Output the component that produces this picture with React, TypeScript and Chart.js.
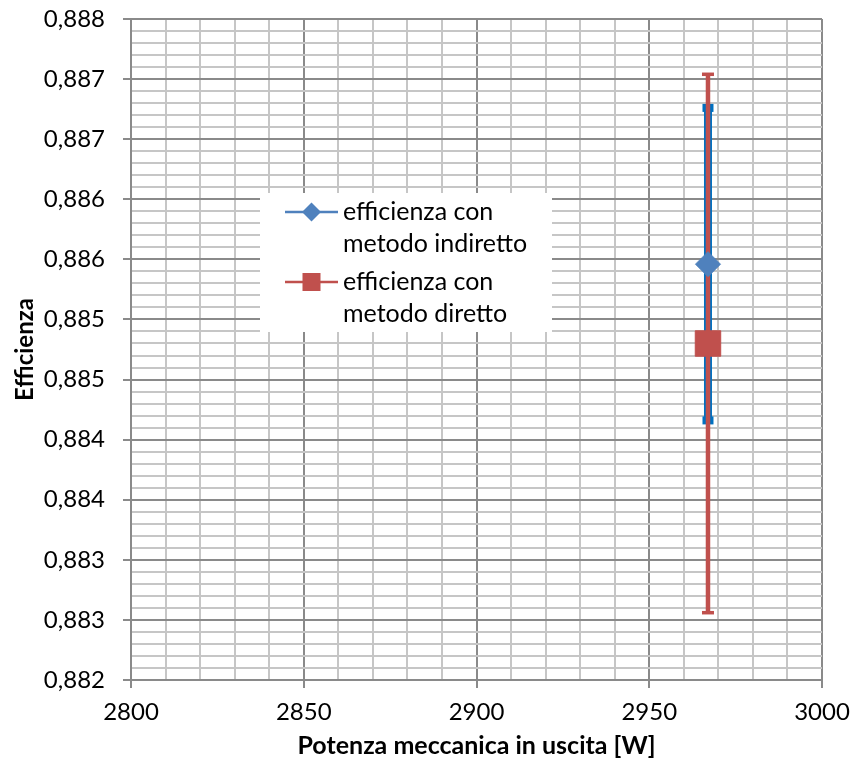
import React, { useEffect, useRef } from 'react';
import { Chart, registerables } from 'chart.js';

Chart.register(...registerables);

// ---- data ----
const SERIES_NAMES = ['efficienza con metodo indiretto', 'efficienza con metodo diretto'];
const LEGEND_LINES_INDIRECT = ['efficienza con', 'metodo indiretto'];
const LEGEND_LINES_DIRECT = ['efficienza con', 'metodo diretto'];

const POWER_INDIRECT = [2967];
const EFF_INDIRECT = [0.88546];
const ERR_INDIRECT = [0.0013];

const POWER_DIRECT = [2967];
const EFF_DIRECT = [0.8848];
const ERR_DIRECT = [0.00224];

const X_MIN = 2800;
const X_MAX = 3000;
const X_MINOR_STEP = 10;
const X_MAJOR_STEP = 50;

const Y_MIN = 0.882;
const Y_MAX = 0.8875;
const Y_MINOR_STEP = 0.0001;

const X_TITLE = 'Potenza meccanica in uscita [W]';
const Y_TITLE = 'Efficienza';

// ---- style ----
const FONT = 'Lato';
const MAJOR_GRID = '#8a8a8a';
const MINOR_GRID = '#c6c6c6';
const BLUE = '#4F81BD';
const BLUE_ERR = '#0070C0';
const RED = '#C0504D';

const isMajorX = (v: number) => Math.round(v) % X_MAJOR_STEP === 0;
const isMajorY = (v: number) => Math.round(v * 10000) % 5 === 0;
const yLabel = (v: number) => {
  const n = Math.round(v * 10000);
  if (n % 5 !== 0) return '';
  return (Math.round(n / 10) / 1000).toFixed(3).replace('.', ',');
};

const zeroPad = (s: any) => {
  s.paddingTop = 0;
  s.paddingBottom = 0;
  s.paddingLeft = 0;
  s.paddingRight = 0;
};

const errorBarPlugin = {
  id: 'errorBars',
  beforeDatasetsDraw(chart: any) {
    const { ctx } = chart;
    const xs = chart.scales.x;
    const ys = chart.scales.y;
    chart.data.datasets.forEach((ds: any) => {
      const st = ds.errStyle;
      ds.data.forEach((p: any, i: number) => {
        const e = ds.errors[i];
        const px = xs.getPixelForValue(p.x);
        const top = ys.getPixelForValue(p.y + e);
        const bot = ys.getPixelForValue(p.y - e);
        ctx.save();
        ctx.strokeStyle = st.color;
        ctx.fillStyle = st.color;
        ctx.lineWidth = st.width;
        ctx.beginPath();
        ctx.moveTo(px, top);
        ctx.lineTo(px, bot);
        ctx.stroke();
        ctx.fillRect(px - st.capWidth / 2, top - st.capThick / 2, st.capWidth, st.capThick);
        ctx.fillRect(px - st.capWidth / 2, bot - st.capThick / 2, st.capWidth, st.capThick);
        ctx.restore();
      });
    });
  },
};

const legendPlugin = {
  id: 'boxLegend',
  afterDraw(chart: any) {
    const { ctx, chartArea } = chart;
    const bx = chartArea.left + 129;
    const by = chartArea.top + 174;
    const bw = 292;
    const bh = 139;
    ctx.save();
    ctx.fillStyle = '#ffffff';
    ctx.fillRect(bx, by, bw, bh);
    const items = [
      { lines: LEGEND_LINES_INDIRECT, color: BLUE, marker: 'diamond', y: by + 19 },
      { lines: LEGEND_LINES_DIRECT, color: RED, marker: 'square', y: by + 89 },
    ];
    items.forEach((it) => {
      ctx.strokeStyle = it.color;
      ctx.lineWidth = 2.5;
      ctx.beginPath();
      ctx.moveTo(bx + 25, it.y);
      ctx.lineTo(bx + 78, it.y);
      ctx.stroke();
      ctx.fillStyle = it.color;
      const cx = bx + 51.5;
      if (it.marker === 'diamond') {
        const r = 9.5;
        ctx.beginPath();
        ctx.moveTo(cx - r, it.y);
        ctx.lineTo(cx, it.y - r);
        ctx.lineTo(cx + r, it.y);
        ctx.lineTo(cx, it.y + r);
        ctx.closePath();
        ctx.fill();
      } else {
        ctx.fillRect(cx - 9, it.y - 9, 18, 18);
      }
      ctx.fillStyle = '#000';
      ctx.font = `25px ${FONT}`;
      ctx.textBaseline = 'middle';
      ctx.textAlign = 'left';
      it.lines.forEach((t, k) => ctx.fillText(t, bx + 83, it.y + k * 32));
    });
    ctx.restore();
  },
};

export default function App() {
  const ref = useRef<HTMLCanvasElement>(null);
  useEffect(() => {
    document.body.style.margin = '0';
    const chart = new Chart(ref.current as HTMLCanvasElement, {
      type: 'scatter',
      data: {
        datasets: [
          {
            label: SERIES_NAMES[0],
            data: POWER_INDIRECT.map((x, i) => ({ x, y: EFF_INDIRECT[i] })),
            pointStyle: 'rectRot',
            pointRadius: 12.5,
            backgroundColor: BLUE,
            borderColor: BLUE,
            borderWidth: 1,
            errors: ERR_INDIRECT,
            errStyle: { color: BLUE_ERR, width: 8, capWidth: 11, capThick: 8 },
          } as any,
          {
            label: SERIES_NAMES[1],
            data: POWER_DIRECT.map((x, i) => ({ x, y: EFF_DIRECT[i] })),
            pointStyle: 'rect',
            pointRadius: 18,
            backgroundColor: RED,
            borderColor: RED,
            borderWidth: 1,
            errors: ERR_DIRECT,
            errStyle: { color: RED, width: 4.5, capWidth: 12, capThick: 3.5 },
          } as any,
        ],
      },
      options: {
        responsive: false,
        animation: false,
        devicePixelRatio: 1,
        layout: { padding: { left: 0, top: 19, right: 30, bottom: 0 } },
        plugins: { legend: { display: false }, tooltip: { enabled: false } },
        scales: {
          x: {
            type: 'linear',
            position: 'bottom',
            min: X_MIN,
            max: X_MAX,
            afterFit: (s: any) => {
              s.height = 88;
              zeroPad(s);
            },
            ticks: {
              stepSize: X_MINOR_STEP,
              autoSkip: false,
              maxRotation: 0,
              padding: 10,
              color: '#000',
              font: { family: FONT, size: 24 },
              callback: (v: any) => (isMajorX(Number(v)) ? String(Math.round(Number(v))) : ''),
            },
            grid: {
              color: (c: any) => (c.tick && isMajorX(c.tick.value) ? MAJOR_GRID : MINOR_GRID),
              tickColor: (c: any) => (c.tick && isMajorX(c.tick.value) ? MAJOR_GRID : 'rgba(0,0,0,0)'),
              tickLength: 8,
              lineWidth: 2,
            },
            border: { color: MAJOR_GRID, width: 2 },
            title: {
              display: true,
              text: X_TITLE,
              color: '#000',
              font: { family: FONT, size: 25, weight: 'bold' },
              padding: { top: 0, bottom: 7 },
            },
          },
          y: {
            type: 'linear',
            min: Y_MIN,
            max: Y_MAX,
            afterFit: (s: any) => {
              s.width = 131;
              zeroPad(s);
            },
            ticks: {
              stepSize: Y_MINOR_STEP,
              autoSkip: false,
              padding: 18,
              color: '#000',
              font: { family: FONT, size: 24 },
              callback: (v: any) => yLabel(Number(v)),
            },
            grid: {
              color: (c: any) => (c.tick && isMajorY(c.tick.value) ? MAJOR_GRID : MINOR_GRID),
              tickColor: (c: any) => (c.tick && isMajorY(c.tick.value) ? MAJOR_GRID : 'rgba(0,0,0,0)'),
              tickLength: 8,
              lineWidth: 2,
            },
            border: { color: MAJOR_GRID, width: 2 },
            title: {
              display: true,
              text: Y_TITLE,
              color: '#000',
              font: { family: FONT, size: 24, weight: 'bold' },
              padding: { top: 11, bottom: 0 },
            },
          },
        },
      } as any,
      plugins: [errorBarPlugin, legendPlugin],
    });
    return () => chart.destroy();
  }, []);
  return (
    <div style={{ width: 852, height: 768, background: '#fff' }}>
      <canvas ref={ref} width={852} height={768} style={{ display: 'block' }} />
    </div>
  );
}
